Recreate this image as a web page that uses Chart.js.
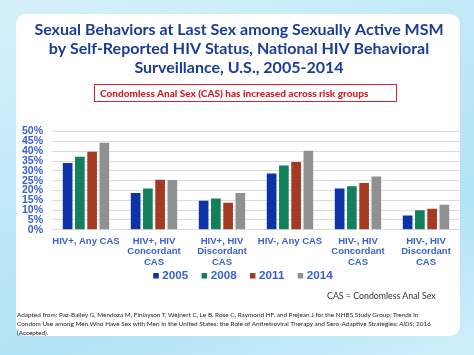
<!DOCTYPE html>
<html>
<head>
<meta charset="utf-8">
<script src="https://cdn.jsdelivr.net/npm/chart.js@4"></script>
<style>
  html,body{margin:0;padding:0;}
  body{width:474px;height:355px;overflow:hidden;position:relative;
    background:linear-gradient(160deg,#d6f1fb 0%,#bfe8f8 40%,#b3e3f6 70%,#cdeffa 100%);
    font-family:"Liberation Sans",Arial,sans-serif;}
  #panel{position:absolute;left:16px;top:14px;width:444px;height:322px;background:#fff;border-radius:10px;}
  #wrap{position:absolute;left:0;top:0;width:474px;height:355px;}
  #redbox{position:absolute;left:94px;top:84px;width:296px;height:16px;border:1.5px solid #d3202b;padding-left:5px;
    color:#cf1f2a;font-family:Lato,sans-serif;font-weight:900;font-size:10.05px;line-height:16px;text-align:left;}
  #cas{position:absolute;left:327px;top:290px;font-family:Lato,sans-serif;font-size:8.8px;color:#333;}
  #foot{position:absolute;left:17px;top:310px;font-family:Lato,sans-serif;font-size:6.4px;line-height:9px;color:#222;white-space:pre;}
</style>
</head>
<body>
<div id="panel"></div>
<div id="wrap"><canvas id="c" width="474" height="355"></canvas></div>
<div id="redbox">Condomless Anal Sex (CAS) has increased across risk groups</div>
<div id="cas">CAS = Condomless Anal Sex</div>
<div id="foot">Adapted from: Paz-Bailey G, Mendoza M, Finlayson T, Wejnert C, Le B, Rose C, Raymond HF, and Prejean J for the NHBS Study Group; Trends in
Condom Use among Men Who Have Sex with Men in the United States: the Role of Antiretroviral Therapy and Sero-Adaptive Strategies; <i>AIDS</i>; 2016
(Accepted).</div>
<script>
const categories = [
  ["HIV+, Any CAS"],
  ["HIV+, HIV","Concordant","CAS"],
  ["HIV+, HIV","Discordant","CAS"],
  ["HIV-, Any CAS"],
  ["HIV-, HIV","Concordant","CAS"],
  ["HIV-, HIV","Discordant","CAS"]
];
const years = ["2005","2008","2011","2014"];
const values2005 = [34.0, 18.8, 14.8, 28.7, 21.0, 7.3];
const values2008 = [37.2, 21.0, 16.0, 32.7, 22.2, 10.0];
const values2011 = [39.8, 25.5, 13.8, 34.5, 23.8, 10.7];
const values2014 = [44.3, 25.3, 18.8, 40.3, 27.2, 12.8];
const yTicks = [0,5,10,15,20,25,30,35,40,45,50];
const titleLines = [
  "Sexual Behaviors at Last Sex among Sexually Active MSM",
  "by Self-Reported HIV Status, National HIV Behavioral",
  "Surveillance, U.S., 2005-2014"
];

const colors = ["#0c34a6","#12805a","#a53a23","#909090"];
const series = [values2005, values2008, values2011, values2014];

const LEGEND_X = 155.5, LEGEND_Y = 270;
const legendPlace = {
  id: 'legendPlace',
  afterLayout(chart) {
    const l = chart.legend;
    if (!l) return;
    const pad = l.options.labels.padding;
    const h = l.height;
    l.left = LEGEND_X - pad;
    l.right = chart.width;
    l.top = LEGEND_Y - pad;
    l.bottom = l.top + h;
  }
};

new Chart(document.getElementById('c'), {
  type: 'bar',
  data: {
    labels: categories,
    datasets: series.map((v,i)=>({
      label: years[i], data: v, backgroundColor: colors[i],
      categoryPercentage: 0.72, barPercentage: 0.79
    }))
  },
  plugins: [legendPlace],
  options: {
    responsive: false,
    animation: false,
    layout: { padding: { left: 18, right: 14, top: 12, bottom: 50 } },
    plugins: {
      title: {
        display: true, text: titleLines, color: '#1b3b96',
        font: { family: 'Lato', weight: 'bold', size: 16 }, lineHeight: 1.3,
        padding: { top: 8, bottom: 54 }
      },
      legend: {
        position: 'bottom',
        align: 'start',
        labels: {
          color: '#3a61cc', usePointStyle: true, pointStyle: 'rect',
          boxWidth: 1, boxHeight: 5.5, padding: 15.5,
          font: { family: 'Liberation Sans', weight: 'bold', size: 11.7 }
        }
      },
      tooltip: { enabled: false }
    },
    scales: {
      x: {
        grid: { display: false, drawTicks: false },
        border: { display: false },
        ticks: { color: '#3a61cc', maxRotation: 0, autoSkip: false, padding: 6,
          font: { family: 'Liberation Sans', weight: 'bold', size: 9.5, lineHeight: 1.1 } },
        afterFit: s => { s.height = 38; }
      },
      y: {
        min: 0, max: 50,
        afterBuildTicks: s => { s.ticks = yTicks.map(v => ({ value: v })); },
        grid: { color: '#dcdcdc', drawTicks: false },
        border: { display: false },
        ticks: { color: '#3a61cc', padding: 9, autoSkip: false, callback: v => v + '%',
          font: { family: 'Liberation Sans', weight: 'bold', size: 10.5 } },
        afterFit: s => { s.width = 34; }
      }
    }
  }
});
</script>
</body>
</html>
